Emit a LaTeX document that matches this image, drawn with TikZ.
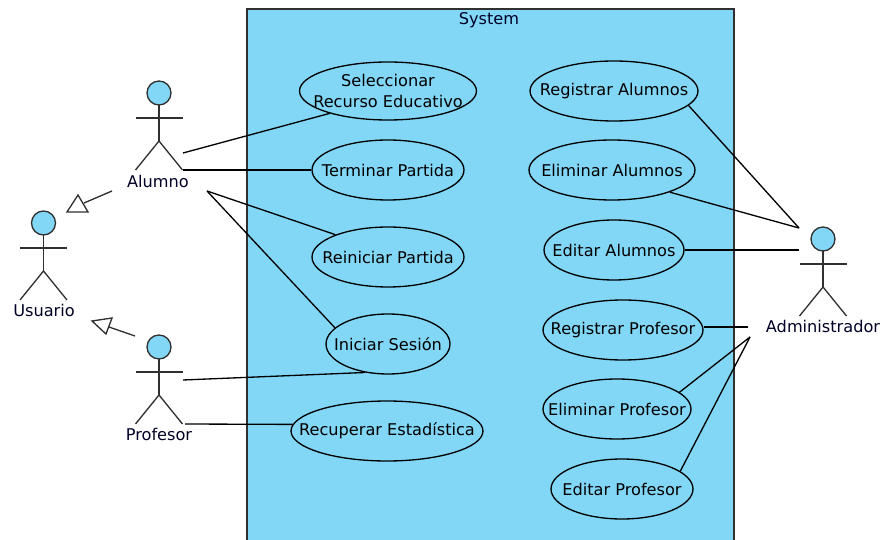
\documentclass[tikz,border=0pt]{standalone}
\usepackage{fontspec}
\setmainfont{DejaVu Sans}
\usetikzlibrary{shapes.geometric}
\definecolor{casefill}{HTML}{82D7F7}
\definecolor{linegray}{HTML}{303030}
\tikzset{
  usecase/.style={ellipse,draw=black,fill=casefill,line width=.75pt,inner xsep=-25pt,inner ysep=0pt,
    minimum height=1.2cm,align=center,font=\fontsize{9.2}{11.5}\selectfont},
  lbl/.style={font=\fontsize{9.2}{11.5}\selectfont,text=black!85!blue,inner sep=0pt},
  link/.style={draw=black,line width=.75pt},
  gen/.style={draw=linegray,line width=.75pt},
  pics/actor/.style={code={
    \draw[linegray,line width=.75pt,fill=casefill] (0,0) circle (12);
    \draw[linegray,line width=.75pt] (0,12) -- (0,48);
    \draw[linegray,line width=.75pt] (-23.5,25) -- (23.5,25);
    \draw[linegray,line width=.75pt] (-23.5,77) -- (0,48) -- (23.5,77);
  }}
}
\begin{document}
\begin{tikzpicture}[x=0.02cm,y=-0.02cm]
  \useasboundingbox (0,0) rectangle (882,540);
  % Sistema
  \filldraw[fill=casefill,draw=linegray,line width=.9pt] (247,560) -- (247,9) -- (734,9) -- (734,560);
  \node[lbl] (system) at (489,20) {System};
  % Casos de uso
  \node[usecase,minimum width=3.54cm,minimum height=1.16cm] (seleccionar) at (388,91) {Seleccionar\\Recurso Educativo};
  \node[usecase,minimum width=3.04cm] (terminar) at (388,170) {Terminar Partida};
  \node[usecase,minimum width=3.04cm] (reiniciar) at (388,257) {Reiniciar Partida};
  \node[usecase,minimum width=2.48cm] (iniciar) at (388,344) {Iniciar Sesión};
  \node[usecase,minimum width=3.84cm] (recuperar) at (387,431) {Recuperar Estadística};
  \node[usecase,minimum width=3.36cm] (regalumnos) at (614,91) {Registrar Alumnos};
  \node[usecase,minimum width=3.32cm] (elialumnos) at (612,170) {Eliminar Alumnos};
  \node[usecase,minimum width=2.8cm] (edialumnos) at (614,250) {Editar Alumnos};
  \node[usecase,minimum width=3.2cm] (regprofesor) at (623,330) {Registrar Profesor};
  \node[usecase,minimum width=2.96cm] (eliprofesor) at (617,409) {Eliminar Profesor};
  \node[usecase,minimum width=2.84cm] (ediprofesor) at (622,489) {Editar Profesor};
  % Actores
  \pic at (159,93) {actor};
  \pic at (43.5,223) {actor};
  \pic at (159,347) {actor};
  \pic at (823,239) {actor};
  \node[lbl] (alumno) at (158,181) {Alumno};
  \node[lbl] (usuario) at (44,310) {Usuario};
  \node[lbl] (profesor) at (159,434) {Profesor};
  \node[lbl] (administrador) at (823,326) {Administrador};
  % Extremos libres
  \coordinate (a1) at (183,153);
  \coordinate (a2) at (183,170);
  \coordinate (a3) at (207,191);
  \coordinate (p1) at (183,380);
  \coordinate (p2) at (185,424);
  \coordinate (d1) at (799,228);
  \coordinate (d2) at (799,250);
  \coordinate (d3) at (748,327);
  \coordinate (d4) at (750,337);
  \draw[link] (a1) -- (seleccionar.201);
  \draw[link] (a2) -- (terminar.west |- a2);
  \draw[link] (a3) -- (reiniciar.157);
  \draw[link] (a3) -- (iniciar.163);
  \draw[link] (p1) -- (iniciar.231);
  \draw[link] (p2) -- (recuperar.176);
  \draw[link] (d1) -- (regalumnos.-11);
  \draw[link] (d1) -- (elialumnos.-21);
  \draw[link] (d2) -- (edialumnos);
  \draw[link] (d3) -- (regprofesor.east |- d3);
  \draw[link] (d4) -- (eliprofesor.15);
  \draw[link] (d4) -- (ediprofesor.17);
  % Generalizaciones
  \coordinate (g1) at (112,191);
  \coordinate (g1t) at (84,203);
  \coordinate (g2) at (135,336);
  \coordinate (g2t) at (109,327);
  \draw[gen] (g1) -- (g1t);
  \draw[gen] (78,195) -- (67,212) -- (88,212) -- cycle;
  \draw[gen] (g2) -- (g2t);
  \draw[gen] (92,321) -- (112,318) -- (106,334) -- cycle;
\end{tikzpicture}
\end{document}
